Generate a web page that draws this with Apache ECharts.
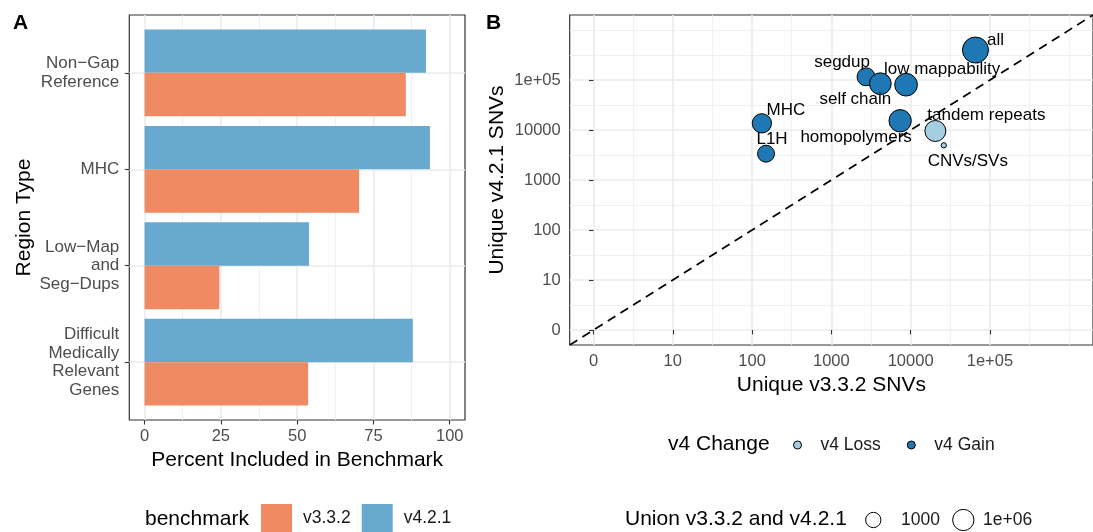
<!DOCTYPE html>
<html><head><meta charset="utf-8">
<script src="https://cdn.jsdelivr.net/npm/echarts@6/dist/echarts.min.js"></script>
<style>html,body{margin:0;padding:0;background:#fff}#c{width:1093px;height:532px}</style>
</head><body><div id="c"></div><script>
// ---------- Panel A data ----------
const regionCategories = ['Non−Gap\nReference', 'MHC', 'Low−Map\nand\nSeg−Dups', 'Difficult\nMedically\nRelevant\nGenes'];
const v332Percent = [85.6, 70.3, 24.5, 53.6];
const v421Percent = [92.2, 93.5, 53.9, 87.9];
const percentTicks = [0, 25, 50, 75, 100];
const percentMinor = [12.5, 37.5, 62.5, 87.5];

// ---------- Panel B data ----------
const regionNames = ['all', 'segdup', 'self chain', 'low mappability', 'MHC', 'L1H', 'homopolymers', 'tandem repeats', 'CNVs/SVs'];
const uniqueV332 = [65700, 2740, 4150, 8760, 133, 150, 7370, 20500, 26200];
const uniqueV421 = [398000, 116000, 84300, 80500, 13600, 3360, 15300, 9550, 4940];
const unionCounts = [2.1e9, 15000, 1.8e6, 8.0e6, 70000, 5000, 4.4e6, 660000, 12];
const v4Change = ['v4 Gain', 'v4 Gain', 'v4 Gain', 'v4 Gain', 'v4 Gain', 'v4 Gain', 'v4 Gain', 'v4 Loss', 'v4 Loss'];
const logTickLabels = ['0', '10', '100', '1000', '10000', '1e+05'];
const logTickPos = [0, 1, 2, 3, 4, 5];
const logMinorPos = [0.5, 1.5, 2.5, 3.5, 4.5, 5.5, 6];
const sizeBreaks = [1000, 1e6];
const sizeBreakLabels = ['1000', '1e+06'];

// ---------- styles ----------
const FONT = "'Liberation Sans', Arial, sans-serif";
const COL_V3 = '#EF8A62', COL_V4 = '#67A9CF';
const COL_GAIN = '#1F78B4', COL_LOSS = '#A6CEE3';
const GRID_MAJOR = { color: '#EBEBEB', width: 1.6 };
const GRID_MINOR = { color: '#EFEFEF', width: 0.9 };
const TICK = { color: '#333333', width: 1.1 };
const labelOffsets = {
  'all': [20, -10], 'segdup': [-24, -14], 'self chain': [-25, 16], 'low mappability': [36, -15],
  'MHC': [24, -13], 'L1H': [6, -14], 'homopolymers': [-44, 17], 'tandem repeats': [51, -16], 'CNVs/SVs': [24, 16]
};
const B_LIM = [-0.3, 6.3];

const lg = v => Math.log10(Math.max(v, 1));
const tMin = Math.min(...unionCounts.map(lg)), tMax = Math.max(...unionCounts.map(lg));
const sizeFn = u => 5.3 + 20.7 * Math.sqrt(Math.max(0, (lg(u) - tMin) / (tMax - tMin)));

function scatterData(kind) {
  return regionNames.map((n, i) => ({
    name: n,
    value: [lg(uniqueV332[i]), lg(uniqueV421[i]), unionCounts[i]],
    label: { offset: labelOffsets[n] },
    kind: v4Change[i]
  })).filter(d => d.kind === kind).map(d => ({ name: d.name, value: d.value, label: d.label }));
}

const chart = echarts.init(document.getElementById('c'), null, { renderer: 'canvas' });

const option = {
  animation: false,
  backgroundColor: '#fff',
  textStyle: { fontFamily: FONT },
  grid: [
    { left: 129.3, right: 628, top: 24.6, bottom: 121.6 },
    { left: 129.3, right: 628, top: 15, bottom: 112, show: true, borderColor: '#333333', borderWidth: 1.2, backgroundColor: 'transparent' },
    { left: 569.7, right: -4.3, top: 15, bottom: 187, show: true, borderColor: '#333333', borderWidth: 1.2, backgroundColor: 'transparent' }
  ],
  xAxis: [
    { gridIndex: 0, type: 'value', min: -5, max: 105, show: false },
    { gridIndex: 1, type: 'value', min: -5, max: 105,
      axisLine: { show: false },
      axisTick: { show: true, length: 4.5, lineStyle: TICK, customValues: percentTicks },
      axisLabel: { customValues: percentTicks, color: '#4D4D4D', fontSize: 16.5, margin: 8, fontFamily: FONT },
      splitLine: { show: true, lineStyle: GRID_MAJOR },
      name: 'Percent Included in Benchmark', nameLocation: 'middle', nameGap: 28.5,
      nameTextStyle: { color: '#000', fontSize: 21, fontFamily: FONT } },
    { gridIndex: 1, type: 'value', min: -5, max: 105, position: 'bottom',
      axisLine: { show: false }, axisTick: { show: false, customValues: percentMinor },
      axisLabel: { show: false, customValues: percentMinor },
      splitLine: { show: true, lineStyle: GRID_MINOR } },
    { gridIndex: 2, type: 'value', min: B_LIM[0], max: B_LIM[1],
      axisLine: { show: false },
      axisTick: { show: true, length: 4.5, lineStyle: TICK, customValues: logTickPos },
      axisLabel: { customValues: logTickPos, color: '#4D4D4D', fontSize: 16.5, margin: 8, fontFamily: FONT,
        formatter: v => logTickLabels[logTickPos.indexOf(Math.round(v))] },
      splitLine: { show: true, lineStyle: GRID_MAJOR },
      name: 'Unique v3.3.2 SNVs', nameLocation: 'middle', nameGap: 28,
      nameTextStyle: { color: '#000', fontSize: 21, fontFamily: FONT } },
    { gridIndex: 2, type: 'value', min: B_LIM[0], max: B_LIM[1],
      axisLine: { show: false }, axisTick: { show: false, customValues: logMinorPos },
      axisLabel: { show: false, customValues: logMinorPos },
      splitLine: { show: true, lineStyle: GRID_MINOR } }
  ],
  yAxis: [
    { gridIndex: 0, type: 'category', inverse: true, data: regionCategories,
      axisLine: { show: false, onZero: false },
      axisTick: { show: true, alignWithLabel: true, length: 4.5, lineStyle: TICK },
      axisLabel: { color: '#4D4D4D', fontSize: 17, lineHeight: 18.7, align: 'right', margin: 10, fontFamily: FONT },
      splitLine: { show: false },
      name: 'Region Type', nameLocation: 'middle', nameGap: 94.8, nameRotate: 90,
      nameTextStyle: { color: '#000', fontSize: 21, fontFamily: FONT } },
    { gridIndex: 1, type: 'value', inverse: true, min: 0.4, max: regionCategories.length + 0.6,
      axisLine: { show: false }, axisTick: { show: false, customValues: regionCategories.map((_, i) => i + 1) },
      axisLabel: { show: false, customValues: regionCategories.map((_, i) => i + 1) },
      splitLine: { show: true, lineStyle: GRID_MAJOR } },
    { gridIndex: 2, type: 'value', min: B_LIM[0], max: B_LIM[1],
      axisLine: { show: false },
      axisTick: { show: true, length: 4.5, lineStyle: TICK, customValues: logTickPos },
      axisLabel: { customValues: logTickPos, color: '#4D4D4D', fontSize: 16.5, margin: 9, fontFamily: FONT,
        formatter: v => logTickLabels[logTickPos.indexOf(Math.round(v))] },
      splitLine: { show: true, lineStyle: GRID_MAJOR },
      name: 'Unique v4.2.1 SNVs', nameLocation: 'middle', nameGap: 62, nameRotate: 90,
      nameTextStyle: { color: '#000', fontSize: 21, fontFamily: FONT } },
    { gridIndex: 2, type: 'value', min: B_LIM[0], max: B_LIM[1],
      axisLine: { show: false }, axisTick: { show: false, customValues: logMinorPos },
      axisLabel: { show: false, customValues: logMinorPos },
      splitLine: { show: true, lineStyle: GRID_MINOR } }
  ],
  legend: [
    { data: ['v3.3.2', 'v4.2.1'], left: 261, top: 504, padding: 0, orient: 'horizontal', icon: 'rect',
      itemWidth: 31, itemHeight: 28, itemGap: 11, selectedMode: false,
      textStyle: { fontSize: 17.5, color: '#1A1A1A', fontFamily: FONT, padding: [0, 0, 0, 6] } },
    { data: ['v4 Loss', 'v4 Gain'], left: 793, top: 436, padding: 0, orient: 'horizontal', icon: 'circle',
      itemWidth: 8, itemHeight: 8, itemGap: 26, selectedMode: false,
      itemStyle: { borderColor: '#000', borderWidth: 1 },
      textStyle: { fontSize: 17.5, color: '#1A1A1A', fontFamily: FONT, padding: [0, 0, 0, 14] } }
  ],
  series: [
    { name: 'v4.2.1', type: 'bar', xAxisIndex: 0, yAxisIndex: 0, data: v421Percent,
      barWidth: 43.4, barGap: '0%', itemStyle: { color: COL_V4 }, silent: true },
    { name: 'v3.3.2', type: 'bar', xAxisIndex: 0, yAxisIndex: 0, data: v332Percent,
      barWidth: 43.4, barGap: '0%', itemStyle: { color: COL_V3 }, silent: true },
    { name: 'diag', type: 'line', xAxisIndex: 3, yAxisIndex: 2, z: 1,
      data: [[B_LIM[0], B_LIM[0]], [B_LIM[1], B_LIM[1]]], symbol: 'none', silent: true,
      lineStyle: { color: '#000', width: 1.7, type: [9, 6] } },
    { name: 'v4 Loss', type: 'scatter', xAxisIndex: 3, yAxisIndex: 2, z: 3,
      data: scatterData('v4 Loss'), symbol: 'circle', symbolSize: v => sizeFn(v[2]),
      itemStyle: { color: COL_LOSS, borderColor: '#000', borderWidth: 1, opacity: 1 },
      label: { show: true, position: 'inside', formatter: '{b}', fontSize: 17, color: '#000', fontFamily: FONT } },
    { name: 'v4 Gain', type: 'scatter', xAxisIndex: 3, yAxisIndex: 2, z: 3,
      data: scatterData('v4 Gain'), symbol: 'circle', symbolSize: v => sizeFn(v[2]),
      itemStyle: { color: COL_GAIN, borderColor: '#000', borderWidth: 1, opacity: 1 },
      label: { show: true, position: 'inside', formatter: '{b}', fontSize: 17, color: '#000', fontFamily: FONT } }
  ],
  graphic: [
    { type: 'text', left: 13, top: 13, style: { text: 'A', font: `bold 21px ${FONT}`, fill: '#000' } },
    { type: 'text', left: 486, top: 13, style: { text: 'B', font: `bold 21px ${FONT}`, fill: '#000' } },
    { type: 'text', x: 145, y: 519, style: { text: 'benchmark', font: `21px ${FONT}`, fill: '#000', verticalAlign: 'middle' } },
    { type: 'text', x: 668, y: 444, style: { text: 'v4 Change', font: `21px ${FONT}`, fill: '#000', verticalAlign: 'middle' } },
    { type: 'text', x: 625, y: 519, style: { text: 'Union v3.3.2 and v4.2.1', font: `21px ${FONT}`, fill: '#000', verticalAlign: 'middle' } },
    { type: 'circle', shape: { cx: 873.3, cy: 520, r: sizeFn(sizeBreaks[0]) / 2 }, style: { fill: '#fff', stroke: '#000', lineWidth: 1 } },
    { type: 'text', x: 901, y: 520, style: { text: sizeBreakLabels[0], font: `17.5px ${FONT}`, fill: '#1A1A1A', verticalAlign: 'middle' } },
    { type: 'circle', shape: { cx: 963.3, cy: 520, r: sizeFn(sizeBreaks[1]) / 2 }, style: { fill: '#fff', stroke: '#000', lineWidth: 1 } },
    { type: 'text', x: 983, y: 520, style: { text: sizeBreakLabels[1], font: `17.5px ${FONT}`, fill: '#1A1A1A', verticalAlign: 'middle' } }
  ]
};
chart.setOption(option);
</script></body></html>
